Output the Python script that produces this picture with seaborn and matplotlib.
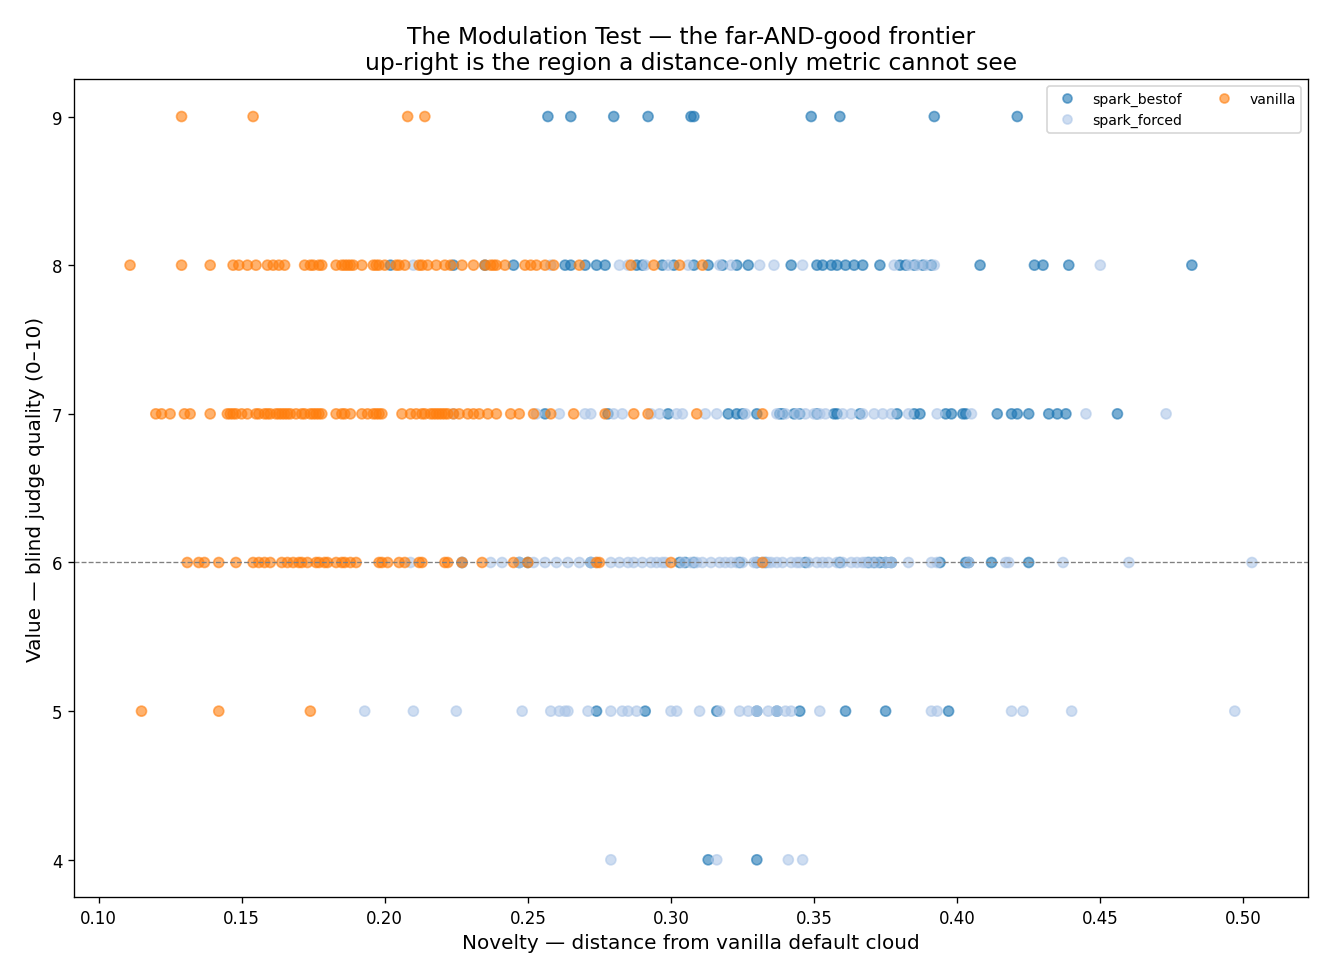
import pandas as pd
import seaborn as sns
import matplotlib
matplotlib.use("Agg")
import matplotlib.pyplot as plt

# novelty values per condition, one list per judged quality score
bestof_9 = [0.257, 0.265, 0.280, 0.292, 0.307, 0.308, 0.349, 0.359, 0.392, 0.421]
bestof_8 = [0.202, 0.224, 0.235, 0.245, 0.263, 0.265, 0.270, 0.274, 0.277, 0.288, 0.290,
            0.297, 0.301, 0.308, 0.313, 0.318, 0.323, 0.327, 0.342, 0.351, 0.353, 0.356,
            0.358, 0.361, 0.364, 0.367, 0.373, 0.380, 0.382, 0.385, 0.388, 0.391, 0.408,
            0.427, 0.430, 0.439, 0.482]
bestof_7 = [0.256, 0.278, 0.299, 0.320, 0.323, 0.325, 0.330, 0.338, 0.339, 0.343, 0.345,
            0.351, 0.357, 0.358, 0.366, 0.379, 0.385, 0.387, 0.396, 0.398, 0.402, 0.403,
            0.414, 0.419, 0.421, 0.425, 0.432, 0.435, 0.438, 0.456]
bestof_6 = [0.227, 0.247, 0.250, 0.272, 0.303, 0.305, 0.308, 0.324, 0.330, 0.333, 0.347,
            0.359, 0.369, 0.371, 0.373, 0.375, 0.377, 0.394, 0.403, 0.404, 0.412, 0.425]
bestof_5 = [0.274, 0.291, 0.316, 0.330, 0.337, 0.345, 0.361, 0.375, 0.397]
bestof_4 = [0.313, 0.330]

forced_8 = [0.210, 0.258, 0.282, 0.285, 0.291, 0.299, 0.306, 0.317, 0.321, 0.331, 0.336,
            0.346, 0.378, 0.383, 0.386, 0.389, 0.392, 0.450]
forced_7 = [0.224, 0.253, 0.261, 0.270, 0.272, 0.280, 0.283, 0.293, 0.296, 0.302, 0.304,
            0.312, 0.316, 0.326, 0.337, 0.340, 0.344, 0.347, 0.350, 0.352, 0.354, 0.360,
            0.363, 0.367, 0.371, 0.374, 0.377, 0.383, 0.393, 0.405, 0.445, 0.473]
forced_6 = [0.209, 0.227, 0.237, 0.241, 0.247, 0.252, 0.256, 0.260, 0.264, 0.268, 0.272,
            0.274, 0.279, 0.282, 0.285, 0.287, 0.290, 0.293, 0.295, 0.297, 0.298, 0.304,
            0.307, 0.309, 0.311, 0.314, 0.317, 0.319, 0.321, 0.323, 0.325, 0.329, 0.330,
            0.332, 0.334, 0.335, 0.337, 0.339, 0.342, 0.344, 0.345, 0.348, 0.351, 0.353,
            0.355, 0.358, 0.360, 0.363, 0.365, 0.367, 0.368, 0.370, 0.372, 0.375, 0.377,
            0.383, 0.391, 0.393, 0.404, 0.417, 0.418, 0.437, 0.460, 0.503]
forced_5 = [0.193, 0.210, 0.225, 0.248, 0.258, 0.261, 0.263, 0.264, 0.271, 0.279, 0.283,
            0.285, 0.288, 0.300, 0.302, 0.310, 0.317, 0.324, 0.327, 0.330, 0.334, 0.337,
            0.340, 0.342, 0.352, 0.391, 0.393, 0.419, 0.423, 0.440, 0.497]
forced_4 = [0.279, 0.316, 0.341, 0.346]

vanilla_9 = [0.129, 0.154, 0.208, 0.214]
vanilla_8 = [0.111, 0.129, 0.139, 0.147, 0.149, 0.152, 0.155, 0.159, 0.161, 0.163, 0.165,
             0.172, 0.174, 0.175, 0.177, 0.178, 0.183, 0.185, 0.186, 0.187, 0.188, 0.189,
             0.192, 0.196, 0.197, 0.198, 0.200, 0.204, 0.205, 0.207, 0.212, 0.213, 0.215,
             0.218, 0.221, 0.223, 0.227, 0.231, 0.235, 0.237, 0.238, 0.239, 0.242, 0.249,
             0.251, 0.253, 0.256, 0.259, 0.268, 0.286, 0.294, 0.303, 0.311]
vanilla_7 = [0.120, 0.122, 0.125, 0.130, 0.132, 0.139, 0.145, 0.146, 0.147, 0.148, 0.150,
             0.152, 0.155, 0.156, 0.158, 0.159, 0.160, 0.162, 0.163, 0.164, 0.165, 0.166,
             0.167, 0.169, 0.171, 0.172, 0.174, 0.175, 0.176, 0.177, 0.178, 0.183, 0.185,
             0.186, 0.188, 0.192, 0.194, 0.196, 0.197, 0.198, 0.199, 0.206, 0.209, 0.211,
             0.213, 0.214, 0.216, 0.217, 0.218, 0.219, 0.220, 0.221, 0.222, 0.224, 0.226,
             0.229, 0.231, 0.233, 0.236, 0.239, 0.244, 0.247, 0.252, 0.258, 0.266, 0.277,
             0.287, 0.292, 0.309, 0.332]
vanilla_6 = [0.131, 0.135, 0.137, 0.142, 0.148, 0.154, 0.156, 0.158, 0.160, 0.164, 0.166,
             0.168, 0.170, 0.171, 0.173, 0.176, 0.177, 0.179, 0.180, 0.183, 0.185, 0.186,
             0.188, 0.190, 0.198, 0.199, 0.201, 0.205, 0.207, 0.212, 0.213, 0.221, 0.222,
             0.227, 0.234, 0.245, 0.250, 0.274, 0.275, 0.300, 0.332]
vanilla_5 = [0.115, 0.142, 0.174]

conditions = ["spark_bestof", "spark_forced", "vanilla"]
colors = ["#1f77b4", "#aec7e8", "#ff7f0e"]

series = {
    "spark_bestof": {9: bestof_9, 8: bestof_8, 7: bestof_7, 6: bestof_6, 5: bestof_5, 4: bestof_4},
    "spark_forced": {8: forced_8, 7: forced_7, 6: forced_6, 5: forced_5, 4: forced_4},
    "vanilla": {9: vanilla_9, 8: vanilla_8, 7: vanilla_7, 6: vanilla_6, 5: vanilla_5},
}

rows = []
for cond in conditions:
    for score, xs in series[cond].items():
        for x in xs:
            rows.append({"condition": cond, "novelty": x, "value": score})
df = pd.DataFrame(rows)

fig, ax = plt.subplots(figsize=(1330 / 120, 980 / 120), dpi=120)
fig.subplots_adjust(left=0.0556, right=0.9835, top=0.918, bottom=0.0837)

sns.scatterplot(data=df, x="novelty", y="value", hue="condition", hue_order=conditions,
                palette=dict(zip(conditions, colors)), alpha=0.6, s=36,
                edgecolor="face", linewidth=1, ax=ax)

ax.axhline(6, color="gray", linestyle="--", linewidth=0.8)

handles, labels = ax.get_legend_handles_labels()
ax.legend(handles, labels, loc="upper right", ncol=2, fontsize=8.4, markerscale=0.9)

ax.set_title("The Modulation Test — the far-AND-good frontier\n"
             "up-right is the region a distance-only metric cannot see", fontsize=14)
ax.set_xlabel("Novelty — distance from vanilla default cloud", fontsize=12)
ax.set_ylabel("Value — blind judge quality (0–10)", fontsize=12)

fig.savefig("out.png", dpi=120)
